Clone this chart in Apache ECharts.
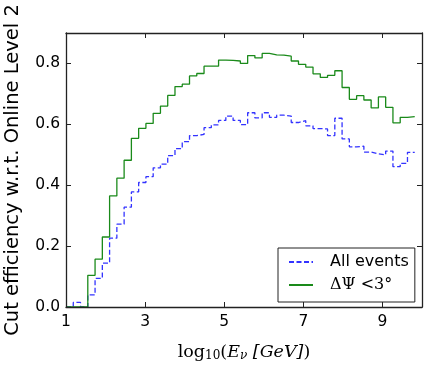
<!DOCTYPE html>
<html><head><meta charset="utf-8">
<script src="https://cdn.jsdelivr.net/npm/echarts@6/dist/echarts.min.js"></script>
<style>html,body{margin:0;padding:0;background:#fff}#c{width:424px;height:366px}</style>
</head><body><div id="c"></div>
<script>
// histogram bin layout: 49 equal bins between 1 and 10 (log10 E)
const binStart = 1, binEnd = 10, nBins = 49;
const xTicks = [1, 3, 5, 7, 9];
const yTicks = ['0.0', '0.2', '0.4', '0.6', '0.8'];
const seriesNames = ['All events', 'ΔΨ <3°'];
// per-bin values (bin 0 .. 47)
const allEvents = [0, 0.015, 0, 0.04, 0.094, 0.144, 0.226, 0.272, 0.328, 0.378,
  0.409, 0.428, 0.457, 0.469, 0.497, 0.52, 0.543, 0.563, 0.567, 0.589,
  0.598, 0.613, 0.627, 0.613, 0.599, 0.638, 0.621, 0.638, 0.623, 0.63,
  0.627, 0.606, 0.612, 0.595, 0.586, 0.585, 0.563, 0.62, 0.552, 0.526,
  0.528, 0.509, 0.503, 0.5, 0.512, 0.461, 0.472, 0.508];
const dPsiCut = [0, 0, 0, 0.104, 0.157, 0.23, 0.365, 0.423, 0.482, 0.554,
  0.587, 0.603, 0.636, 0.66, 0.695, 0.724, 0.732, 0.759, 0.767, 0.791,
  0.791, 0.811, 0.81, 0.808, 0.80, 0.826, 0.818, 0.833, 0.828, 0.827,
  0.824, 0.808, 0.797, 0.788, 0.766, 0.754, 0.761, 0.776, 0.721, 0.682,
  0.694, 0.68, 0.654, 0.69, 0.656, 0.605, 0.623, 0.625];

const binW = (binEnd - binStart) / nBins;
function edge(k) { return binStart + k * binW; }
function stepData(vals) {
  const d = vals.map((v, k) => [edge(k), v]);
  d.push([edge(vals.length), vals[vals.length - 1]]);
  return d;
}

const chart = echarts.init(document.getElementById('c'), null, {renderer: 'canvas'});
const lineCol = '#222';
const tickCommon = {show: true, inside: true, length: 5, lineStyle: {color: lineCol, width: 1}};
const axisLineCommon = {show: true, onZero: false, lineStyle: {color: lineCol, width: 1.3}};
chart.setOption({
  animation: false,
  backgroundColor: '#fff',
  grid: {left: 66, right: 2, top: 33, bottom: 59, containLabel: false, outerBoundsMode: 'none'},
  xAxis: [{
    type: 'value', min: 1, max: 10, interval: 2, z: 10,
    axisLine: axisLineCommon, axisTick: tickCommon, splitLine: {show: false},
    axisLabel: {margin: 7, color: '#000', fontFamily: 'DejaVu Sans', fontSize: 15.5,
      formatter: v => xTicks.includes(v) ? String(v) : ''},
    name: '{r|log}{s|10}{r|(}{i|E}{si|ν}{i| [GeV]}{r|)}',
    nameLocation: 'middle', nameGap: 36,
    nameTextStyle: {
      rich: {
        r: {fontFamily: 'DejaVu Serif', fontSize: 17.5, color: '#000'},
        s: {fontFamily: 'DejaVu Serif', fontSize: 12, color: '#000', verticalAlign: 'bottom', padding: [7, 0, 0, 0]},
        i: {fontFamily: 'DejaVu Serif', fontStyle: 'italic', fontSize: 17.5, color: '#000'},
        si: {fontFamily: 'DejaVu Serif', fontStyle: 'italic', fontSize: 12, color: '#000', verticalAlign: 'bottom', padding: [7, 0, 0, 0]}
      }
    }
  }, {
    type: 'value', min: 1, max: 10, interval: 2, position: 'top', z: 10,
    axisLine: axisLineCommon, axisTick: tickCommon, splitLine: {show: false},
    axisLabel: {show: false}
  }],
  yAxis: [{
    type: 'value', min: 0, max: 0.9, interval: 0.2, z: 10,
    axisLine: axisLineCommon, axisTick: tickCommon, splitLine: {show: false},
    axisLabel: {margin: 6, color: '#000', fontFamily: 'DejaVu Sans', fontSize: 15.5,
      showMaxLabel: false,
      formatter: v => yTicks.includes(v.toFixed(1)) ? v.toFixed(1) : ''},
    name: 'Cut efficiency w.r.t. Online Level 2',
    nameLocation: 'middle', nameGap: 43,
    nameTextStyle: {fontFamily: 'DejaVu Sans', fontSize: 19.5, color: '#000'}
  }, {
    type: 'value', min: 0, max: 0.9, interval: 0.2, position: 'right', z: 10,
    axisLine: axisLineCommon, axisTick: tickCommon, splitLine: {show: false},
    axisLabel: {show: false}
  }],
  legend: {
    orient: 'vertical', left: 278, top: 248,
    itemWidth: 24, itemHeight: 14, itemGap: 7, itemTextGap: 5,
    padding: [6, 6, 9, 10],
    borderColor: '#222', borderWidth: 1, backgroundColor: '#fff', borderRadius: 0,
    itemStyle: {opacity: 0},
    data: seriesNames,
    formatter: n => n === seriesNames[0] ? '{a|' + n + '}' : '{m|' + n + '}',
    textStyle: {fontFamily: 'DejaVu Sans', fontSize: 16, color: '#000',
      rich: {
        a: {fontFamily: 'DejaVu Sans', fontSize: 16, color: '#000', padding: [0, 0, 0, 12]},
        m: {fontFamily: 'DejaVu Serif', fontSize: 16, color: '#000', padding: [0, 0, 0, 12]}
      }}
  },
  series: [{
    name: seriesNames[0], type: 'line', step: 'end', symbol: 'none',
    data: stepData(allEvents),
    lineStyle: {color: '#3333ff', width: 1.3, type: [5, 2.5]},
    itemStyle: {color: '#3333ff'}
  }, {
    name: seriesNames[1], type: 'line', step: 'end', symbol: 'none',
    data: stepData(dPsiCut),
    lineStyle: {color: '#1a8a1a', width: 1.3},
    itemStyle: {color: '#1a8a1a'}
  }]
});
</script></body></html>
